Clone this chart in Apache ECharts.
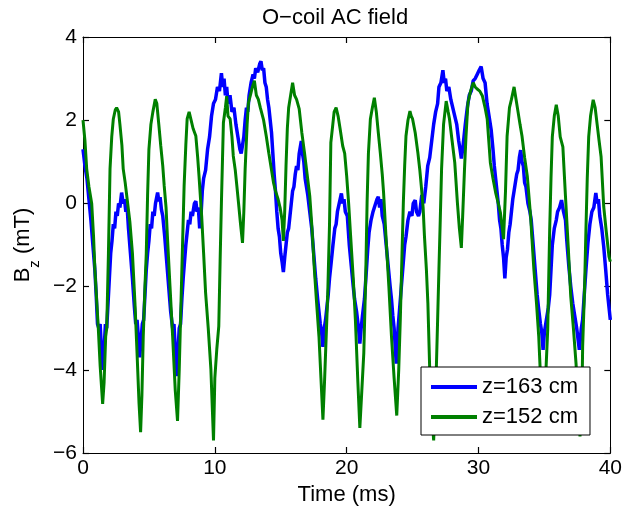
<!DOCTYPE html>
<html>
<head>
<meta charset="utf-8">
<script src="https://cdn.jsdelivr.net/npm/echarts@6/dist/echarts.min.js"></script>
<style>
html,body{margin:0;padding:0;background:#fff;}
#chart{width:625px;height:512px;}
</style>
</head>
<body>
<div id="chart"></div>
<script>
var titleText = 'O\u2212coil AC field';
var xTicks = [0, 10, 20, 30, 40];
var yTicks = [-6, -4, -2, 0, 2, 4];
var seriesNames = ['z=163 cm', 'z=152 cm'];

var t163 = [0.0,0.15,0.3,0.45,0.6,0.75,0.9,1.0,1.1,1.2,1.3,1.4,1.52,1.62,1.7,1.8,1.9,2.0,2.1,2.2,2.3,2.4,2.5,2.6,2.7,2.8,2.93,3.05,3.15,3.25,3.35,3.45,3.6,3.75,3.9,4.0,4.1,4.2,4.3,4.4,4.5,4.6,4.7,4.8,4.9,5.0,5.1,5.2,5.3,5.4,5.5,5.66,5.75,5.85,5.95,6.05,6.2,6.35,6.5,6.65,6.8,6.9,7.0,7.1,7.2,7.3,7.4,7.5,7.6,7.7,7.8,7.9,8.0,8.1,8.2,8.3,8.45,8.56,8.65,8.75,8.85,8.95,9.05,9.15,9.3,9.45,9.6,9.75,9.9,10.05,10.2,10.35,10.5,10.6,10.7,10.8,10.9,11.0,11.15,11.3,11.45,11.6,11.75,11.9,12.0,12.1,12.2,12.3,12.4,12.5,12.6,12.75,12.9,13.0,13.1,13.25,13.4,13.5,13.6,13.7,13.8,13.9,14.0,14.1,14.2,14.3,14.4,14.5,14.6,14.7,14.8,14.9,15.0,15.1,15.2,15.3,15.4,15.5,15.6,15.7,15.8,15.9,16.0,16.1,16.2,16.3,16.4,16.56,16.65,16.75,16.85,16.95,17.05,17.2,17.35,17.5,17.65,17.8,17.9,18.0,18.1,18.2,18.3,18.4,18.5,18.6,18.7,18.8,18.96,19.1,19.2,19.3,19.45,19.6,19.7,19.8,19.9,20.05,20.2,20.35,20.5,20.6,20.75,20.9,21.0,21.1,21.2,21.35,21.5,21.6,21.7,21.85,22.0,22.15,22.3,22.4,22.5,22.6,22.7,22.85,23.0,23.15,23.3,23.4,23.5,23.6,23.76,23.9,24.0,24.1,24.25,24.4,24.5,24.65,24.8,24.95,25.05,25.2,25.3,25.45,25.55,25.7,25.85,26.0,26.15,26.3,26.45,26.6,26.75,26.9,27.0,27.15,27.3,27.4,27.5,27.6,27.75,27.9,28.05,28.2,28.35,28.5,28.6,28.7,28.8,28.9,29.0,29.15,29.3,29.45,29.6,29.75,29.9,30.05,30.2,30.35,30.5,30.65,30.8,30.96,31.1,31.2,31.3,31.4,31.5,31.6,31.7,31.8,31.9,32.0,32.1,32.2,32.3,32.4,32.5,32.6,32.7,32.8,32.9,33.0,33.1,33.2,33.3,33.4,33.5,33.6,33.75,33.9,34.0,34.15,34.3,34.45,34.55,34.7,34.8,34.9,35.0,35.15,35.3,35.4,35.5,35.6,35.75,35.9,36.0,36.15,36.3,36.45,36.6,36.7,36.85,37.0,37.15,37.3,37.45,37.65,37.8,37.9,38.0,38.15,38.3,38.45,38.6,38.75,38.9,39.0,39.1,39.2,39.35,39.5,39.65,39.8,39.9,40.0];
var v163 = [1.3,0.9,0.6,0.1,-0.4,-1.0,-1.6,-2.2,-2.9,-3.0,-2.9,-3.5,-4.0,-3.4,-2.9,-3.0,-2.4,-1.8,-1.2,-0.9,-0.5,-0.6,-0.2,-0.3,0.0,-0.1,0.26,0.0,0.1,-0.2,-0.1,-0.6,-1.2,-1.8,-2.5,-2.9,-2.8,-3.2,-3.7,-3.3,-2.9,-2.8,-2.2,-1.6,-1.2,-0.9,-0.5,-0.6,-0.2,-0.3,0.0,0.26,0.05,0.15,-0.15,-0.3,-0.8,-1.4,-2.0,-2.6,-3.0,-2.9,-3.5,-4.15,-3.6,-3.0,-2.9,-2.3,-1.8,-1.4,-1.0,-0.7,-0.4,-0.5,-0.2,-0.3,0.0,0.05,-0.2,-0.1,-0.6,-0.3,0.3,0.6,0.8,1.3,1.6,2.1,2.4,2.5,2.8,2.7,3.13,2.8,3.0,2.6,2.8,2.4,2.6,2.2,2.3,1.9,1.6,1.3,1.2,1.4,1.6,2.0,2.3,2.2,2.6,2.9,3.1,3.0,3.25,3.15,3.35,3.42,3.2,3.25,2.9,2.8,2.5,2.3,2.0,1.7,1.2,0.7,0.3,-0.2,-0.6,-0.8,-1.2,-1.4,-1.65,-1.3,-1.0,-0.7,-0.6,-0.3,0.0,0.3,0.4,0.7,0.9,0.8,1.2,1.5,1.2,1.0,0.6,0.6,0.2,-0.2,-0.6,-1.2,-1.8,-2.3,-2.6,-2.9,-3.1,-3.45,-3.0,-2.8,-2.5,-2.2,-1.8,-1.5,-1.0,-0.6,-0.5,-0.2,-0.2,0.24,0.0,0.1,-0.2,-0.3,-1.0,-1.5,-2.0,-2.3,-2.6,-3.0,-3.37,-3.0,-2.7,-2.3,-1.6,-1.1,-0.7,-0.4,-0.2,-0.2,0.1,0.16,-0.1,0.1,-0.3,-0.5,-1.0,-1.5,-2.0,-2.3,-2.7,-3.0,-3.85,-3.0,-2.6,-2.2,-1.6,-1.0,-0.8,-0.4,-0.2,-0.3,0.0,0.08,-0.2,-0.3,-0.2,0.2,0.0,0.4,0.9,1.1,1.5,1.9,2.2,2.4,2.8,2.9,3.2,2.9,3.0,2.7,2.8,2.5,2.5,2.1,1.9,1.5,1.3,1.08,1.3,1.6,1.9,2.3,2.6,2.7,2.95,3.0,3.1,3.2,3.29,3.0,2.9,2.4,2.1,1.77,1.3,0.9,0.6,0.3,0.0,-0.4,-0.6,-1.0,-1.3,-1.8,-1.3,-1.1,-0.7,-0.5,-0.2,0.1,0.3,0.5,0.7,0.8,1.1,1.28,1.0,0.9,0.5,0.4,0.0,-0.2,-0.4,-1.0,-1.6,-2.2,-2.5,-2.9,-3.1,-3.52,-3.1,-2.8,-2.5,-2.2,-1.6,-1.0,-0.6,-0.4,-0.2,-0.1,0.08,-0.2,-0.4,-0.9,-1.5,-2.0,-2.4,-2.7,-3.0,-3.52,-3.0,-2.8,-2.3,-1.6,-0.96,-0.5,-0.2,-0.1,0.25,0.0,0.1,-0.3,-0.6,-1.04,-1.6,-2.2,-2.5,-2.8];

var t152 = [0.0,0.15,0.28,0.45,0.66,0.8,0.9,1.05,1.16,1.3,1.49,1.6,1.72,1.8,1.93,2.05,2.18,2.3,2.45,2.55,2.7,2.8,2.95,3.05,3.2,3.35,3.56,3.75,3.94,4.1,4.25,4.37,4.47,4.57,4.7,4.8,4.9,5.0,5.15,5.3,5.48,5.6,5.75,5.9,6.05,6.16,6.3,6.4,6.6,6.8,7.0,7.17,7.3,7.4,7.55,7.67,7.8,7.9,8.05,8.2,8.35,8.56,8.7,8.8,9.0,9.15,9.3,9.5,9.7,9.9,10.0,10.15,10.3,10.4,10.5,10.65,10.8,10.9,11.0,11.16,11.3,11.4,11.55,11.67,11.8,11.95,12.1,12.2,12.3,12.45,12.55,12.7,12.85,13.0,13.15,13.3,13.45,13.56,13.7,13.9,14.1,14.3,14.45,14.6,14.8,14.95,15.1,15.2,15.3,15.4,15.5,15.6,15.75,15.9,16.05,16.2,16.4,16.6,16.8,17.0,17.2,17.35,17.55,17.7,17.9,18.05,18.2,18.32,18.4,18.56,18.7,18.8,18.95,19.05,19.2,19.35,19.5,19.7,19.85,20.0,20.15,20.3,20.5,20.66,20.85,21.0,21.15,21.3,21.45,21.55,21.65,21.8,21.95,22.1,22.25,22.4,22.55,22.7,22.8,23.0,23.2,23.4,23.6,23.8,23.95,24.07,24.2,24.3,24.4,24.5,24.65,24.8,24.9,25.0,25.2,25.4,25.55,25.66,25.8,25.9,26.05,26.16,26.3,26.45,26.6,26.7,26.8,26.9,27.0,27.1,27.2,27.35,27.55,27.7,27.8,28.0,28.2,28.4,28.55,28.7,28.8,28.94,29.05,29.2,29.4,29.6,29.75,29.9,30.1,30.3,30.5,30.66,30.9,31.1,31.3,31.5,31.66,31.9,32.05,32.17,32.35,32.5,32.7,32.85,33.0,33.15,33.3,33.5,33.7,33.95,34.2,34.4,34.57,34.75,34.9,35.05,35.25,35.4,35.5,35.6,35.75,35.9,36.05,36.2,36.4,36.6,36.8,37.0,37.2,37.4,37.55,37.7,37.85,37.9,38.05,38.15,38.25,38.36,38.5,38.7,38.85,39.0,39.15,39.3,39.5,39.7,39.9,40.0];
var v152 = [2.0,1.5,0.83,0.4,0.0,-0.8,-1.58,-2.4,-3.0,-3.9,-4.82,-4.3,-3.2,-3.0,-1.2,0.83,1.6,2.03,2.25,2.3,2.2,1.9,1.4,0.83,0.5,0.1,-0.46,-1.2,-2.39,-3.6,-4.8,-5.5,-4.6,-3.2,-2.0,-1.2,0.2,1.3,1.9,2.2,2.5,2.4,1.9,1.38,0.9,0.42,-0.1,-0.78,-2.0,-3.2,-4.5,-5.23,-4.0,-2.78,-1.0,0.42,1.4,2.03,2.2,2.0,1.8,1.62,1.1,0.66,-0.3,-1.2,-2.15,-3.0,-3.98,-5.7,-4.2,-3.5,-2.95,-1.4,0.02,1.94,2.3,2.58,2.1,2.03,1.6,1.14,0.8,0.42,0.0,-0.5,-0.95,-0.2,0.83,1.9,2.42,2.6,2.8,2.95,2.6,2.5,2.3,2.27,2.0,1.62,1.2,0.8,0.5,0.3,0.1,-0.1,-0.4,-0.9,-0.2,0.9,1.8,2.3,2.6,2.9,2.6,2.5,2.27,1.7,1.22,0.7,0.18,-0.5,-1.58,-2.3,-3.2,-4.2,-5.2,-4.3,-3.6,-2.23,-0.5,1.46,1.9,2.2,2.3,2.1,1.8,1.38,1.2,0.66,0.0,-0.78,-1.8,-2.78,-4.3,-5.4,-4.5,-3.6,-1.7,0.02,1.2,2.03,2.3,2.54,2.2,1.7,1.22,0.7,0.26,-0.9,-1.99,-3.2,-4.2,-5.1,-4.0,-2.78,-1.2,0.02,0.9,1.62,2.0,2.22,2.1,2.03,1.7,1.22,0.8,0.42,-0.1,-0.78,-1.6,-2.39,-4.0,-5.0,-5.7,-4.8,-4.0,-2.8,-1.58,-0.4,0.83,1.9,2.46,2.2,2.03,1.5,0.98,0.02,-0.6,-1.07,-0.3,0.83,1.6,2.42,2.7,2.9,2.8,2.75,2.7,2.58,2.3,2.03,0.98,0.6,0.26,0.0,-0.22,-0.86,0.3,1.62,2.3,2.5,2.8,2.5,2.2,1.9,1.62,1.1,0.66,-0.3,-1.58,-2.4,-3.2,-4.5,-5.5,-4.5,-3.04,-0.64,0.6,1.6,2.1,2.37,2.1,1.6,1.36,0.16,-1.0,-2.24,-3.0,-3.85,-4.8,-5.6,-4.6,-3.45,-2.0,-0.64,0.6,1.6,2.1,2.49,2.3,1.9,1.5,1.12,-0.08,-0.7,-1.28,-1.4];

function pairs(t, v) { return t.map(function (x, i) { return [x, v[i]]; }); }
function fmt(v) { return v < 0 ? '\u2212' + Math.abs(v) : String(v); }

var FONT = 'Liberation Sans, Arial, Helvetica, sans-serif';
var chart = echarts.init(document.getElementById('chart'), null, {renderer: 'canvas'});

function axisCommon() {
  return {
    axisLine: {show: true, onZero: false, lineStyle: {color: '#000', width: 1}},
    axisTick: {show: true, inside: true, length: 6, lineStyle: {color: '#000', width: 1.2}},
    splitLine: {show: false}
  };
}

chart.setOption({
  animation: false,
  backgroundColor: '#fff',
  title: {
    text: titleText,
    left: 257, top: 2,
    textStyle: {fontFamily: FONT, fontSize: 22, fontWeight: 'normal', color: '#000'}
  },
  grid: {left: 83, right: 13, top: 37, bottom: 59, containLabel: false},
  legend: {
    orient: 'vertical',
    left: 421, top: 367,
    data: seriesNames,
    icon: 'rect',
    itemWidth: 46, itemHeight: 4, itemGap: 8,
    padding: [9, 12, 7, 10],
    borderColor: '#000', borderWidth: 1,
    backgroundColor: '#fff',
    textStyle: {fontFamily: FONT, fontSize: 22, color: '#000'}
  },
  xAxis: [
    Object.assign({
      type: 'value', min: xTicks[0], max: xTicks[xTicks.length - 1], interval: 10,
      position: 'bottom',
      name: 'Time (ms)', nameLocation: 'middle', nameGap: 25,
      nameTextStyle: {fontFamily: FONT, fontSize: 22, color: '#000'},
      axisLabel: {fontFamily: FONT, fontSize: 21, color: '#000', margin: 5}
    }, axisCommon()),
    Object.assign({
      type: 'value', min: xTicks[0], max: xTicks[xTicks.length - 1], interval: 10,
      position: 'top', axisLabel: {show: false}
    }, axisCommon())
  ],
  yAxis: [
    Object.assign({
      type: 'value', min: yTicks[0], max: yTicks[yTicks.length - 1], interval: 2,
      position: 'left',
      name: '{b|B}{s|z}{b| (mT)}', nameLocation: 'middle', nameGap: 47,
      nameTextStyle: {
        fontFamily: FONT, color: '#000',
        rich: {
          b: {fontFamily: FONT, fontSize: 22, color: '#000', lineHeight: 26, verticalAlign: 'middle'},
          s: {fontFamily: FONT, fontSize: 15, color: '#000', lineHeight: 26, verticalAlign: 'bottom', padding: [0, 0, -6, 0]}
        }
      },
      axisLabel: {fontFamily: FONT, fontSize: 21, color: '#000', margin: 6, formatter: fmt}
    }, axisCommon()),
    Object.assign({
      type: 'value', min: yTicks[0], max: yTicks[yTicks.length - 1], interval: 2,
      position: 'right', axisLabel: {show: false}
    }, axisCommon())
  ],
  series: [
    {
      name: seriesNames[0], type: 'line', xAxisIndex: 0, yAxisIndex: 0,
      data: pairs(t163, v163), showSymbol: false, symbol: 'none',
      lineStyle: {color: '#0000ff', width: 3.5}, itemStyle: {color: '#0000ff'}
    },
    {
      name: seriesNames[1], type: 'line', xAxisIndex: 0, yAxisIndex: 0,
      data: pairs(t152, v152), showSymbol: false, symbol: 'none',
      lineStyle: {color: '#008000', width: 3}, itemStyle: {color: '#008000'}
    }
  ]
});
</script>
</body>
</html>
